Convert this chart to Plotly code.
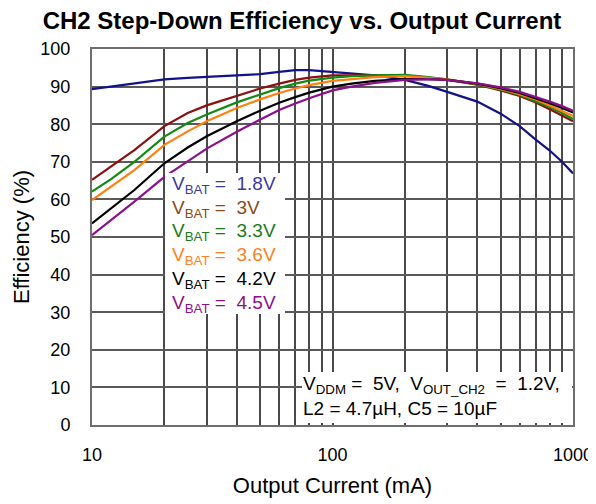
import plotly.graph_objects as go

current_ma = [10, 12, 15, 20, 25, 30, 40, 50, 60, 70, 80, 100, 120, 150, 200, 250, 300, 400, 500, 600, 700, 800, 900, 1000]

eff_1v8 = [89.3, 90.0, 90.8, 91.9, 92.3, 92.6, 93.0, 93.3, 93.9, 94.4, 94.4, 93.9, 93.5, 93.0, 91.8, 90.2, 88.6, 86.0, 82.8, 79.5, 75.9, 73.0, 70.0, 66.9]
eff_3v0 = [65.2, 68.8, 73.1, 79.5, 83.0, 85.0, 87.6, 89.5, 90.8, 91.8, 92.4, 93.0, 93.0, 93.0, 93.0, 92.4, 91.8, 90.5, 89.0, 87.5, 85.8, 84.0, 82.4, 80.8]
eff_3v3 = [62.1, 65.4, 70.0, 76.7, 80.3, 82.6, 85.8, 87.9, 89.6, 90.8, 91.6, 92.4, 92.8, 93.0, 93.1, 92.5, 91.9, 90.6, 89.2, 87.8, 86.2, 84.6, 83.0, 81.4]
eff_3v6 = [59.8, 63.3, 67.8, 74.5, 78.1, 80.8, 84.3, 86.6, 88.3, 89.5, 90.4, 91.5, 92.0, 92.5, 92.8, 92.4, 91.9, 90.7, 89.4, 88.0, 86.6, 85.0, 83.6, 82.2]
eff_4v2 = [53.6, 57.5, 62.5, 69.6, 73.8, 76.8, 80.8, 83.6, 85.7, 87.2, 88.4, 90.0, 90.8, 91.5, 92.0, 92.0, 91.8, 90.8, 89.6, 88.3, 86.9, 85.6, 84.3, 83.1]
eff_4v5 = [50.5, 54.5, 59.4, 66.0, 70.2, 73.5, 78.0, 81.3, 83.8, 85.5, 86.9, 89.0, 90.0, 91.0, 91.8, 92.0, 91.8, 90.9, 89.8, 88.6, 87.3, 86.0, 84.8, 83.6]

series_labels = ["1.8V", "3V", "3.3V", "3.6V", "4.2V", "4.5V"]
series_values = [eff_1v8, eff_3v0, eff_3v3, eff_3v6, eff_4v2, eff_4v5]
line_colors = ["#12128a", "#8b1010", "#138a13", "#ff7f10", "#000000", "#8b108b"]
text_colors = ["#3a3aa0", "#8b4a1a", "#1a7a1a", "#ff7f20", "#000000", "#8b108b"]

y_ticks = [0, 10, 20, 30, 40, 50, 60, 70, 80, 90, 100]
x_ticks = [10, 100, 1000]
x_minor = [20, 30, 40, 50, 60, 70, 80, 90, 200, 300, 400, 500, 600, 700, 800, 900]

FONT = "Liberation Sans, Arial, sans-serif"
NB = "\u00a0"

fig = go.Figure()
for lab, vals, col in zip(series_labels, series_values, line_colors):
    fig.add_trace(go.Scatter(x=current_ma, y=vals, mode="lines", name=lab,
                             line=dict(color=col, width=2.2), showlegend=False))

# screen pixel -> plot-area fraction (plot area spans screen x 92..573, y 49..425)
def px_x(px):
    return (px - 92) / 481

def px_y(py):
    return (425 - py) / 376

# legend box
fig.add_shape(type="rect", xref="paper", yref="paper",
              x0=px_x(165), x1=px_x(285), y0=px_y(314), y1=px_y(173),
              fillcolor="white", line=dict(width=0), layer="above")
ys = [185, 209, 232, 256, 280, 304]
for lab, col, py in zip(series_labels, text_colors, ys):
    fig.add_annotation(xref="paper", yref="paper", x=px_x(170), y=px_y(py),
                       xanchor="left", yanchor="middle", showarrow=False,
                       text=f"V<sub>BAT</sub>{NB}={NB}{NB}{lab}",
                       font=dict(family=FONT, size=19, color=col))

# conditions box
fig.add_shape(type="rect", xref="paper", yref="paper",
              x0=px_x(302), x1=px_x(572), y0=px_y(423), y1=px_y(372),
              fillcolor="white", line=dict(width=0), layer="above")
fig.add_annotation(xref="paper", yref="paper", x=px_x(301), y=px_y(385),
                   xanchor="left", yanchor="middle", showarrow=False,
                   text=f"V<sub>DDM</sub>{NB}={NB}{NB}5V,{NB}{NB}V<sub>OUT_CH2</sub>{NB}{NB}={NB}{NB}1.2V,",
                   font=dict(family=FONT, size=19, color="black"))
fig.add_annotation(xref="paper", yref="paper", x=px_x(301), y=px_y(408),
                   xanchor="left", yanchor="middle", showarrow=False,
                   text="L2 = 4.7µH, C5 = 10µF",
                   font=dict(family=FONT, size=19, color="black"))

# page body has an 8px margin: figure is drawn at screen offset (8, 8)
fig.update_layout(
    width=588, height=496,
    margin=dict(l=84, r=23, t=41, b=79),
    paper_bgcolor="white", plot_bgcolor="white",
    font=dict(family=FONT, size=18, color="black"),
    title=dict(text="<b>CH2 Step-Down Efficiency vs. Output Current</b>",
               x=0.5, xref="container", xanchor="center",
               y=1-4/496, yref="container", yanchor="top", pad=dict(t=0, b=0),
               font=dict(family=FONT, size=24, color="black")),
    xaxis=dict(type="log", range=[1, 3], tickvals=x_ticks, ticktext=["10", "100", "1000"],
               showgrid=True, gridcolor="#4a4a4a", gridwidth=1.5,
               minor=dict(tickvals=x_minor, showgrid=True, gridcolor="#4a4a4a", gridwidth=1.5,
                          ticks="inside", ticklen=4, tickcolor="#444444"),
               ticks="", showline=True, linecolor="#6e6e6e", linewidth=2, mirror=True,
               tickfont=dict(size=18), ticklabelstandoff=12, automargin=False,
               title=dict(text="Output Current (mA)", font=dict(size=22), standoff=14),
               zeroline=False),
    yaxis=dict(range=[0, 100], tickvals=y_ticks,
               showgrid=True, gridcolor="#5a5a5a", gridwidth=1.6,
               ticks="", showline=True, linecolor="#6e6e6e", linewidth=2, mirror=True,
               tickfont=dict(size=18), ticklabelstandoff=16, automargin=False,
               title=dict(text="Efficiency (%)", font=dict(size=22), standoff=5),
               zeroline=False),
)

fig.write_html("out.html")
